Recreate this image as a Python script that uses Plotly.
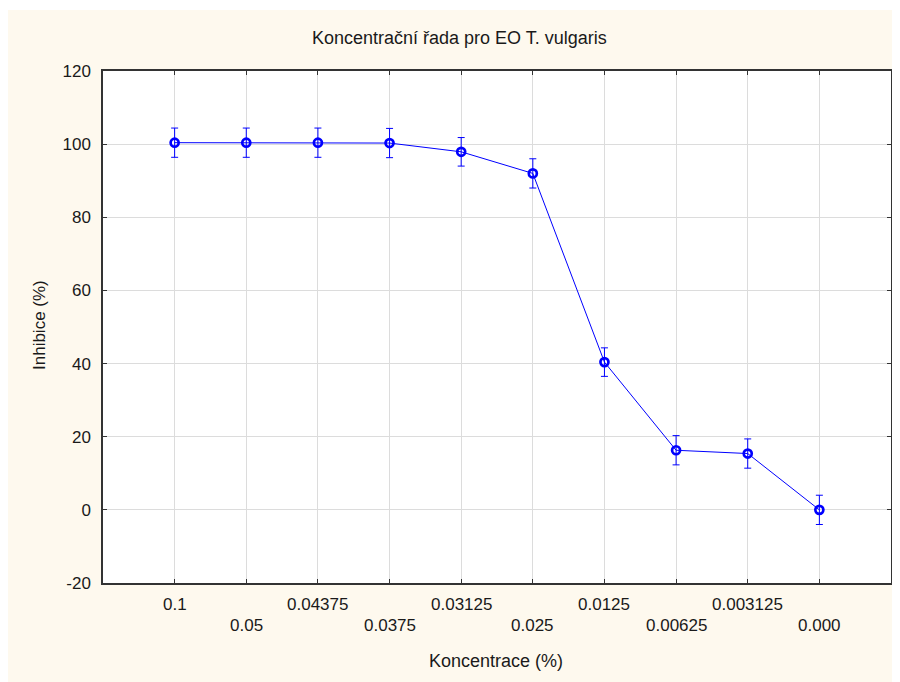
import plotly.graph_objects as go

# ---- data ----
categories = ["0.1", "0.05", "0.04375", "0.0375", "0.03125", "0.025",
              "0.0125", "0.00625", "0.003125", "0.000"]
inhibition = [100.4, 100.4, 100.4, 100.3, 97.9, 92.0, 40.4, 16.3, 15.4, 0.0]
error = [4.0, 4.0, 4.0, 4.0, 3.9, 4.0, 3.9, 4.0, 4.0, 4.0]
y_ticks = [-20, 0, 20, 40, 60, 80, 100, 120]
y_tick_labels = ["-20", "0", "20", "40", "60", "80", "100", "120"]

title_text = "Koncentrační řada pro EO T. vulgaris"
x_title = "Koncentrace (%)"
y_title = "Inhibice (%)"

# page offset of the figure (body margin)
OFF = 8
W, H = 900 - OFF, 682 - OFF
ML, MR, MT, MB = 103 - OFF, 9, 71 - OFF, H - (583 - OFF)
PW, PH = W - ML - MR, H - MT - MB

FONT = "Liberation Sans, Arial, sans-serif"
TXT = "#1a1a1a"
BLUE = "#0000FF"
CREAM = "#FEF9EE"


def px_x(page_px):
    return (page_px - OFF - ML) / PW


def px_y(page_px_from_top):
    return ((H - (page_px_from_top - OFF)) - MB) / PH


idx = list(range(len(categories)))

fig = go.Figure()
fig.add_trace(go.Scatter(
    x=idx, y=inhibition,
    mode="lines+markers",
    line=dict(color=BLUE, width=1),
    marker=dict(symbol="circle-open", size=8, color=BLUE,
                line=dict(color=BLUE, width=2.7)),
    error_y=dict(type="data", array=error, visible=True,
                 color=BLUE, thickness=1, width=3.5),
    showlegend=False,
))

annotations = []
for i, lab in zip(idx, categories):
    row_y = 604 if i % 2 == 0 else 625
    annotations.append(dict(
        x=i, xref="x", y=px_y(row_y), yref="paper",
        text=lab, showarrow=False, xanchor="center", yanchor="middle",
        font=dict(family=FONT, size=17, color=TXT)))

annotations.append(dict(
    x=px_x(39), xref="paper", y=px_y(325), yref="paper",
    text=y_title, textangle=-90, showarrow=False,
    xanchor="center", yanchor="middle",
    font=dict(family=FONT, size=17, color=TXT)))
annotations.append(dict(
    x=px_x(496), xref="paper", y=px_y(661), yref="paper",
    text=x_title, showarrow=False, xanchor="center", yanchor="middle",
    font=dict(family=FONT, size=18, color=TXT)))
annotations.append(dict(
    x=px_x(459), xref="paper", y=px_y(38), yref="paper",
    text=title_text, showarrow=False, xanchor="center", yanchor="middle",
    font=dict(family=FONT, size=18, color=TXT)))

shapes = [
    # thin white strip on the top edge
    dict(type="rect", xref="paper", yref="paper",
         x0=px_x(0), x1=px_x(910), y0=px_y(10), y1=px_y(OFF),
         fillcolor="white", line=dict(width=0), layer="below"),
]

fig.update_layout(
    width=W, height=H,
    margin=dict(l=ML, r=MR, t=MT, b=MB, autoexpand=False),
    paper_bgcolor=CREAM, plot_bgcolor="white",
    font=dict(family=FONT, size=17, color=TXT),
    annotations=annotations, shapes=shapes,
    xaxis=dict(range=[-1, 10], tickvals=idx, showticklabels=False,
               ticks="inside", ticklen=4, tickcolor="#333333",
               showline=True, linecolor="#333333", linewidth=1.5,
               mirror="ticks", showgrid=True, gridcolor="#DCDCDC",
               gridwidth=1, zeroline=False, fixedrange=True),
    yaxis=dict(range=[-20, 120], tickvals=y_ticks, ticktext=y_tick_labels,
               ticks="inside", ticklen=4, tickcolor="#333333",
               showline=True, linecolor="#333333", linewidth=1.5,
               mirror="ticks", showgrid=True, gridcolor="#DCDCDC",
               gridwidth=1, zeroline=False, ticklabelstandoff=7,
               tickfont=dict(family=FONT, size=17, color=TXT),
               fixedrange=True),
)

fig.write_html("out.html")
